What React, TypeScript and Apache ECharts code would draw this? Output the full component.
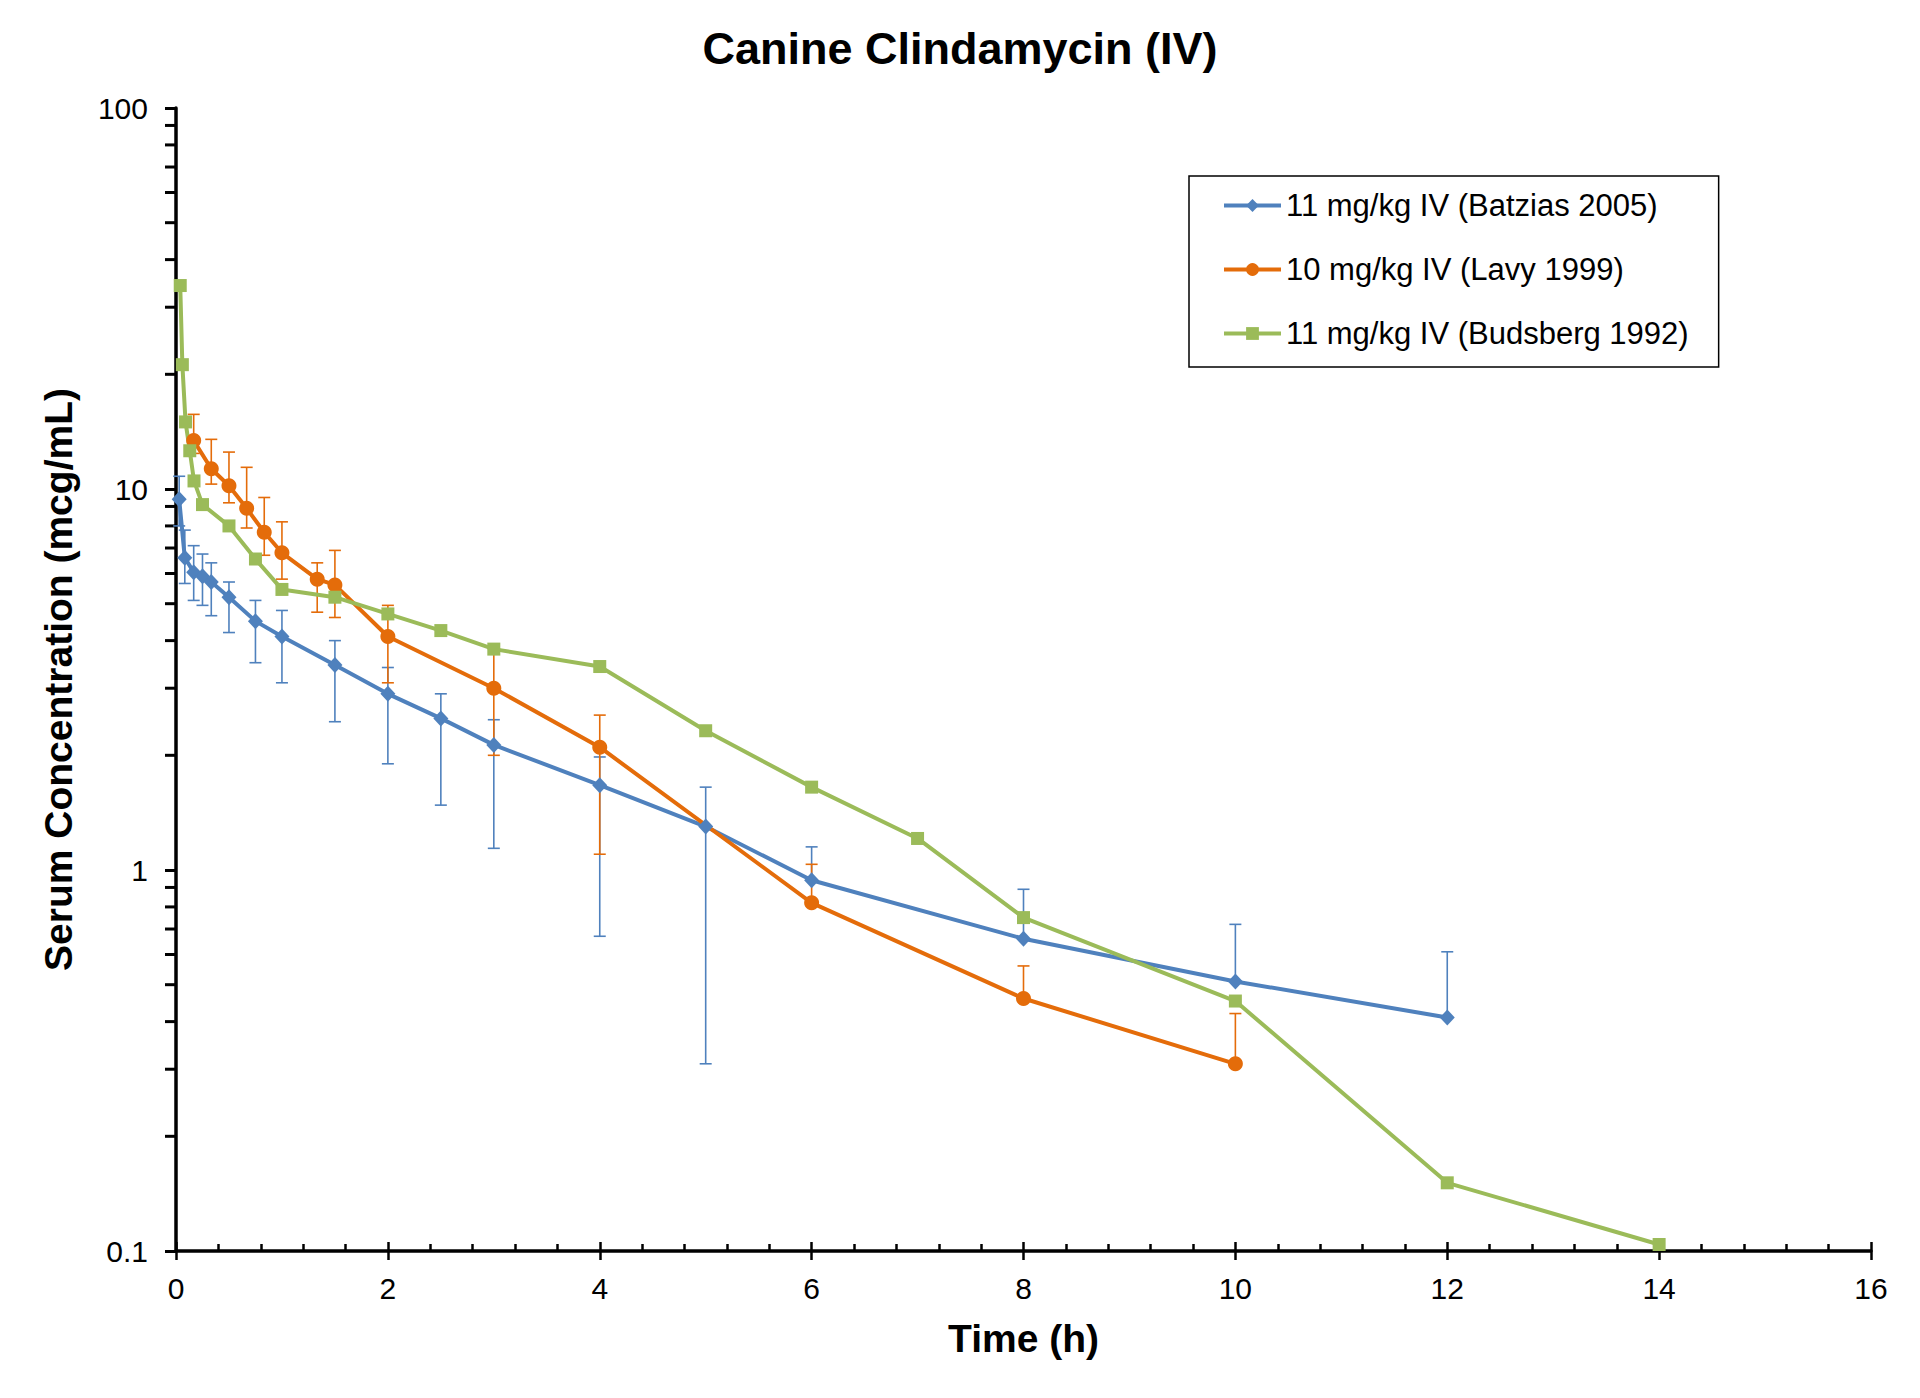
import React, { useEffect, useRef } from "react";
import * as echarts from "echarts";

const FONT = "'Liberation Sans', Arial, Helvetica, sans-serif";

const TITLE = "Canine Clindamycin (IV)";
const X_NAME = "Time (h)";
const Y_NAME = "Serum Concentration (mcg/mL)";

const NAME_BATZIAS = "11 mg/kg IV (Batzias 2005)";
const NAME_LAVY = "10 mg/kg IV (Lavy 1999)";
const NAME_BUDSBERG = "11 mg/kg IV (Budsberg 1992)";

const COLOR_BLUE = "#4F81BD";
const COLOR_ORANGE = "#E46C0A";
const COLOR_GREEN = "#9BBB59";
const TICK_COLOR = "#000000";

// Batzias 2005
const batziasTime = [0.03, 0.083, 0.167, 0.25, 0.333, 0.5, 0.75, 1, 1.5, 2, 2.5, 3, 4, 5, 6, 8, 10, 12];
const batziasConc = [9.4, 6.6, 6.05, 5.9, 5.7, 5.2, 4.5, 4.1, 3.45, 2.9, 2.5, 2.13, 1.67, 1.3, 0.94, 0.66, 0.51, 0.41];
const batziasHigh = [10.8, 7.8, 7.1, 6.75, 6.4, 5.7, 5.1, 4.8, 4.0, 3.4, 2.9, 2.48, 1.98, 1.65, 1.15, 0.89, 0.72, 0.61];
const batziasLow = [8.0, 5.65, 5.1, 4.95, 4.65, 4.2, 3.5, 3.1, 2.45, 1.9, 1.48, 1.14, 0.67, 0.31, null, null, null, null];

// Lavy 1999
const lavyTime = [0.167, 0.333, 0.5, 0.667, 0.833, 1, 1.333, 1.5, 2, 3, 4, 6, 8, 10];
const lavyConc = [13.4, 11.3, 10.2, 8.9, 7.7, 6.8, 5.8, 5.6, 4.1, 3.0, 2.1, 0.82, 0.46, 0.31];
const lavyHigh = [15.7, 13.5, 12.5, 11.4, 9.5, 8.2, 6.4, 6.9, 4.95, 3.8, 2.55, 1.035, 0.56, 0.42];
const lavyLow = [12.4, 10.3, 9.2, 7.9, 6.7, 5.8, 4.75, 4.6, 3.1, 2.0, 1.1, null, null, null];

// Budsberg 1992
const budsbergTime = [0.04, 0.06, 0.09, 0.13, 0.17, 0.25, 0.5, 0.75, 1, 1.5, 2, 2.5, 3, 4, 5, 6, 7, 8, 10, 12, 14];
const budsbergConc = [34.2, 21.2, 15.0, 12.6, 10.5, 9.1, 8.0, 6.55, 5.45, 5.2, 4.7, 4.25, 3.8, 3.42, 2.32, 1.65, 1.21, 0.75, 0.453, 0.151, 0.104];

// Axis ticks
const xTicks = { min: 0, max: 16, interval: 2, minorSplit: 5 };
const yTicks = { min: 0.1, max: 100 };
const yMinorTicks = [
  0.2, 0.3, 0.4, 0.5, 0.6, 0.7, 0.8, 0.9,
  2, 3, 4, 5, 6, 7, 8, 9,
  20, 30, 40, 50, 60, 70, 80, 90,
];

function pairs(t: number[], v: number[]) {
  return t.map((x, i) => [x, v[i]]);
}

function errData(t: number[], v: number[], lo: (number | null)[], hi: (number | null)[]) {
  return t.map((x, i) => [
    x,
    lo[i] == null ? v[i] : (lo[i] as number),
    hi[i] == null ? v[i] : (hi[i] as number),
    lo[i] == null ? 0 : 1,
    hi[i] == null ? 0 : 1,
  ]);
}

function errorSeries(color: string, data: number[][]) {
  return {
    type: "custom",
    z: 1,
    silent: true,
    xAxisIndex: 0,
    yAxisIndex: 0,
    encode: { x: 0, y: [1, 2] },
    data,
    renderItem: (params: any, api: any) => {
      const x = api.value(0);
      const lo = api.value(1);
      const hi = api.value(2);
      const hasLo = api.value(3);
      const hasHi = api.value(4);
      const pLo = api.coord([x, lo]);
      const pHi = api.coord([x, hi]);
      const w = 6;
      const style = { stroke: color, lineWidth: 1.6 };
      const children: any[] = [
        { type: "line", shape: { x1: pLo[0], y1: pLo[1], x2: pHi[0], y2: pHi[1] }, style },
      ];
      if (hasHi) children.push({ type: "line", shape: { x1: pHi[0] - w, y1: pHi[1], x2: pHi[0] + w, y2: pHi[1] }, style });
      if (hasLo) children.push({ type: "line", shape: { x1: pLo[0] - w, y1: pLo[1], x2: pLo[0] + w, y2: pLo[1] }, style });
      return { type: "group", children };
    },
  };
}

function lineSeries(name: string, color: string, symbol: string, size: any, data: number[][]) {
  return {
    name,
    type: "line",
    z: 3,
    data,
    symbol,
    symbolSize: size,
    showSymbol: true,
    itemStyle: { color, borderWidth: 0 },
    lineStyle: { color, width: 4 },
    emphasis: { disabled: true },
  };
}

export default function App() {
  const ref = useRef<HTMLDivElement>(null);
  useEffect(() => {
    if (!ref.current) return;
    const chart = echarts.init(ref.current, null, { renderer: "svg" });
    const option: any = {
      animation: false,
      backgroundColor: "#ffffff",
      textStyle: { fontFamily: FONT },
      title: {
        text: TITLE,
        left: "center",
        top: 26,
        padding: 0,
        textStyle: { fontFamily: FONT, fontSize: 45, fontWeight: "bold", color: "#000" },
      },
      legend: {
        data: [NAME_BATZIAS, NAME_LAVY, NAME_BUDSBERG],
        orient: "vertical",
        left: 1189,
        top: 176,
        padding: [14, 30, 18, 33],
        itemGap: 33,
        itemWidth: 57,
        itemHeight: 16,
        borderColor: "#000",
        borderWidth: 1.5,
        backgroundColor: "#fff",
        lineStyle: { width: 4 },
        textStyle: { fontFamily: FONT, fontSize: 31, color: "#000", lineHeight: 30 },
      },
      grid: { left: 176, right: 49, top: 108, bottom: 147, containLabel: false },
      xAxis: [
        {
          type: "value",
          min: xTicks.min,
          max: xTicks.max,
          interval: xTicks.interval,
          name: X_NAME,
          nameLocation: "middle",
          nameGap: 68,
          nameTextStyle: { fontFamily: FONT, fontSize: 39, fontWeight: "bold", color: "#000" },
          axisLine: { show: true, onZero: false, lineStyle: { color: "#000", width: 3.5 } },
          axisTick: { show: true, inside: true, length: 9, lineStyle: { color: "#000", width: 2.5 } },
          minorTick: { show: true, splitNumber: xTicks.minorSplit, length: 7, lineStyle: { color: "#000", width: 2.5 } },
          axisLabel: { fontFamily: FONT, fontSize: 30, color: "#000", margin: 22 },
          splitLine: { show: false },
        },
        {
          type: "value",
          position: "bottom",
          offset: 0,
          min: xTicks.min,
          max: xTicks.max,
          interval: xTicks.interval,
          axisLine: { show: false },
          axisTick: { show: true, inside: false, length: 9, lineStyle: { color: "#000", width: 2.5 } },
          axisLabel: { show: false },
          splitLine: { show: false },
        },
      ],
      yAxis: {
        type: "log",
        logBase: 10,
        min: yTicks.min,
        max: yTicks.max,
        name: Y_NAME,
        nameLocation: "middle",
        nameGap: 98,
        nameTextStyle: { fontFamily: FONT, fontSize: 39, fontWeight: "bold", color: "#000" },
        axisLine: { show: true, onZero: false, lineStyle: { color: "#000", width: 3.5 } },
        axisTick: { show: true, inside: false, length: 11, lineStyle: { color: TICK_COLOR, width: 3 } },
        minorTick: { show: false },
        axisLabel: {
          fontFamily: FONT,
          fontSize: 30,
          color: "#000",
          margin: 28,
          formatter: (v: number) => String(Number(v.toPrecision(3))),
        },
        splitLine: { show: false },
      },
      series: [
        errorSeries(COLOR_BLUE, errData(batziasTime, batziasConc, batziasLow, batziasHigh)),
        errorSeries(COLOR_ORANGE, errData(lavyTime, lavyConc, lavyLow, lavyHigh)),
        lineSeries(NAME_BATZIAS, COLOR_BLUE, "diamond", [15, 16], pairs(batziasTime, batziasConc)),
        lineSeries(NAME_LAVY, COLOR_ORANGE, "circle", 15, pairs(lavyTime, lavyConc)),
        lineSeries(NAME_BUDSBERG, COLOR_GREEN, "rect", 13, pairs(budsbergTime, budsbergConc)),
      ],
    };
    chart.setOption(option);

    // Minor ticks of the log axis, positioned through the axis scales.
    const axisX = chart.convertToPixel({ xAxisIndex: 0 }, xTicks.min) as number;
    chart.setOption({
      graphic: yMinorTicks.map((v) => {
        const py = chart.convertToPixel({ yAxisIndex: 0 }, v) as number;
        return {
          type: "line",
          silent: true,
          shape: { x1: axisX - 11, y1: py, x2: axisX, y2: py },
          style: { stroke: TICK_COLOR, lineWidth: 3 },
        };
      }),
    });

    return () => chart.dispose();
  }, []);
  return (
    <div
      ref={ref}
      style={{ position: "fixed", left: 0, top: 0, width: 1920, height: 1398, background: "#fff" }}
    />
  );
}
